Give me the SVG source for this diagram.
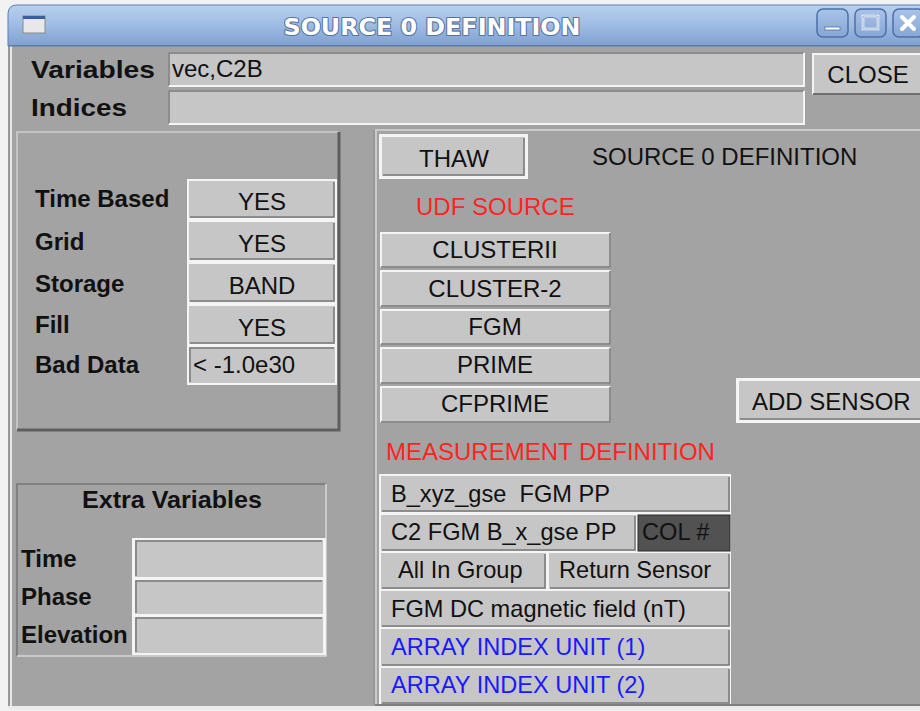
<svg xmlns="http://www.w3.org/2000/svg" width="920" height="711" viewBox="0 0 920 711">
<defs>
<linearGradient id="tb" x1="0" y1="0" x2="0" y2="1">
<stop offset="0" stop-color="#b9d0ee"/>
<stop offset="0.5" stop-color="#9dbbe3"/>
<stop offset="1" stop-color="#7f9fcf"/>
</linearGradient>
<linearGradient id="wb" x1="0" y1="0" x2="0" y2="1">
<stop offset="0" stop-color="#a9c3e8"/>
<stop offset="1" stop-color="#86a6d6"/>
</linearGradient>
</defs>
<style>
.bg{fill:#a3a3a3}
.btn{fill:#c6c6c6}
.hi{fill:none;stroke:#f4f4f4;stroke-width:2}
.lo{fill:none;stroke:#6f6f6f;stroke-width:2}
.lo1{fill:none;stroke:#7a7a7a;stroke-width:1.5}
.t{font-family:"Liberation Sans",Arial,sans-serif;font-size:24px;fill:#111}
.m{font-size:23.6px;white-space:pre}
.c{text-anchor:middle}
.b{font-family:"Liberation Sans",Arial,sans-serif;font-weight:bold;font-size:24px;fill:#111}
.red{fill:#ff2323}
.blue{fill:#1a1aff}
.wbtn{fill:url(#wb);stroke:#4d6fa6;stroke-width:1.5}
</style>
<rect x="0" y="0" width="920" height="711" fill="#f2f2f2"/>

<g id="window">
<rect x="8" y="44" width="920" height="662" class="bg"/>
<line x1="9" y1="44" x2="9" y2="708" stroke="#8c8c8c" stroke-width="1"/>
<line x1="11" y1="44" x2="11" y2="708" stroke="#e6e6e6" stroke-width="2"/>
<line x1="8" y1="708" x2="920" y2="708" stroke="#ececec" stroke-width="4"/>
</g>

<g id="titlebar">
<path d="M8,46 V14 Q8,5 17,5 H930 V46 Z" fill="url(#tb)" stroke="#5f7fb0" stroke-width="1"/>
<line x1="8" y1="45.5" x2="920" y2="45.5" stroke="#5a78a8" stroke-width="1"/>
<rect x="23" y="16" width="22" height="17" fill="#e8e8e8" stroke="#8a8a8a" stroke-width="1"/>
<rect x="23" y="16" width="22" height="3" fill="#3a5ea0"/>
<text x="432" y="35" text-anchor="middle" font-family="'DejaVu Sans',Verdana,sans-serif" font-weight="bold" font-size="23.8px" fill="#ffffff" stroke="#56739f" stroke-width="2.2" paint-order="stroke" stroke-linejoin="round">SOURCE 0 DEFINITION</text>
<rect x="817" y="9" width="31" height="28" rx="6" class="wbtn"/>
<rect x="825" y="27" width="15" height="3" fill="#ffffff" stroke="#4d6fa6" stroke-width="0.8"/>
<rect x="855" y="9" width="31" height="28" rx="6" class="wbtn"/>
<rect x="863" y="16" width="15" height="13" fill="none" stroke="#ffffff" stroke-width="2.5"/>
<rect x="863" y="16" width="15" height="13" fill="none" stroke="#4d6fa6" stroke-width="0.6"/>
<rect x="893" y="9" width="31" height="28" rx="6" class="wbtn"/>
<path d="M902,17 L914,29 M914,17 L902,29" stroke="#ffffff" stroke-width="4" stroke-linecap="round"/>
</g>

<g id="variables">
<text x="31" y="78" class="b" font-size="26px" textLength="124" lengthAdjust="spacingAndGlyphs">Variables</text>
<rect x="168" y="52" width="637" height="35" class="btn"/>
<path d="M169,86 V53 H804" class="lo1"/>
<path d="M169,86 H804 V53" class="hi"/>
<text x="172" y="77" class="t">vec,C2B</text>
</g>

<g id="indices">
<text x="31" y="116" class="b" font-size="26px" textLength="96" lengthAdjust="spacingAndGlyphs">Indices</text>
<rect x="168" y="90" width="637" height="35" class="btn"/>
<path d="M169,124 V91 H804" class="lo1"/>
<path d="M169,124 H804 V91" class="hi"/>
</g>

<g id="close">
<rect x="812" y="53" width="112" height="42" class="btn"/>
<path d="M813,94 V54 H924" class="hi"/>
<path d="M813,94 H924" class="lo"/>
<text x="868" y="83" class="t c">CLOSE</text>
</g>

<g id="options-panel">
<rect x="16" y="131" width="324" height="300" class="bg"/>
<path d="M17,430 V132 H339" fill="none" stroke="#c4c4c4" stroke-width="2"/>
<path d="M17,430 H339 V132" fill="none" stroke="#5e5e5e" stroke-width="3"/>
<rect x="187" y="179" width="150" height="206" fill="#f4f4f4"/>
<g id="time-based">
<text x="35" y="207" class="b">Time Based</text>
<rect x="189" y="181" width="146" height="37" class="btn"/>
<path d="M190,217 H334 V182" class="lo1"/>
<text x="262" y="210" class="t c" font-size="23px">YES</text>
</g>
<g id="grid">
<text x="35" y="250" class="b">Grid</text>
<rect x="189" y="222" width="146" height="38" class="btn"/>
<path d="M190,259 H334 V223" class="lo1"/>
<text x="262" y="252" class="t c" font-size="23px">YES</text>
</g>
<g id="storage">
<text x="35" y="292" class="b">Storage</text>
<rect x="189" y="264" width="146" height="38" class="btn"/>
<path d="M190,301 H334 V265" class="lo1"/>
<text x="262" y="294" class="t c" font-size="23px">BAND</text>
</g>
<g id="fill">
<text x="35" y="333" class="b">Fill</text>
<rect x="189" y="306" width="146" height="38" class="btn"/>
<path d="M190,343 H334 V307" class="lo1"/>
<text x="262" y="336" class="t c" font-size="23px">YES</text>
</g>
<g id="bad-data">
<text x="35" y="373" class="b">Bad Data</text>
<rect x="189" y="347" width="146" height="36" class="btn"/>
<path d="M190,382 V348 H334" class="lo1"/>
<text x="193" y="373" class="t" font-size="22px">&lt; -1.0e30</text>
</g>
</g>

<g id="extra-variables">
<path d="M17,656 V484 H326" fill="none" stroke="#767676" stroke-width="1.5"/>
<path d="M17,656 H326 V484" fill="none" stroke="#d8d8d8" stroke-width="1.5"/>
<text x="82" y="508" class="b" textLength="180" lengthAdjust="spacingAndGlyphs">Extra Variables</text>
<rect x="132" y="538" width="194" height="117" fill="#f4f4f4"/>
<g id="time">
<text x="21" y="567" class="b">Time</text>
<rect x="135" y="540" width="188" height="37" class="btn"/>
<path d="M136,576 V541 H322" class="lo1"/>
</g>
<g id="phase">
<text x="21" y="605" class="b">Phase</text>
<rect x="135" y="580" width="188" height="34" class="btn"/>
<path d="M136,613 V581 H322" class="lo1"/>
</g>
<g id="elevation">
<text x="21" y="643" class="b">Elevation</text>
<rect x="135" y="617" width="188" height="36" class="btn"/>
<path d="M136,652 V618 H322" class="lo1"/>
</g>
</g>

<g id="source-panel">
<path d="M376,705 V130 H920" fill="none" stroke="#cacaca" stroke-width="2"/>
<line x1="374" y1="130" x2="374" y2="705" stroke="#8a8a8a" stroke-width="1"/>
<line x1="375" y1="705" x2="920" y2="705" stroke="#7e7e7e" stroke-width="2"/>
</g>

<g id="thaw">
<rect x="379" y="134" width="149" height="45" fill="#f4f4f4"/>
<rect x="382" y="137" width="143" height="39" class="btn"/>
<path d="M383,175 H524 V138" class="lo1"/>
<text x="454" y="167" class="t c">THAW</text>
</g>

<text id="source-title" x="592" y="165" class="t" font-size="24.4px">SOURCE 0 DEFINITION</text>
<text id="udf-source" x="416" y="215" class="t red">UDF SOURCE</text>

<g id="udf-list">
<g id="clusterii">
<rect x="380" y="232" width="231" height="36" class="btn"/>
<path d="M381,267 V233 H610" class="hi"/><path d="M381,267 H610 V233" class="lo1"/>
<text x="495" y="258" class="t c">CLUSTERII</text>
</g>
<g id="cluster-2">
<rect x="380" y="270" width="231" height="37" class="btn"/>
<path d="M381,306 V271 H610" class="hi"/><path d="M381,306 H610 V271" class="lo1"/>
<text x="495" y="297" class="t c">CLUSTER-2</text>
</g>
<g id="fgm">
<rect x="380" y="309" width="231" height="36" class="btn"/>
<path d="M381,344 V310 H610" class="hi"/><path d="M381,344 H610 V310" class="lo1"/>
<text x="495" y="335" class="t c">FGM</text>
</g>
<g id="prime">
<rect x="380" y="347" width="231" height="37" class="btn"/>
<path d="M381,383 V348 H610" class="hi"/><path d="M381,383 H610 V348" class="lo1"/>
<text x="495" y="373" class="t c">PRIME</text>
</g>
<g id="cfprime">
<rect x="380" y="386" width="231" height="37" class="btn"/>
<path d="M381,422 V387 H610" class="hi"/><path d="M381,422 H610 V387" class="lo1"/>
<text x="495" y="412" class="t c">CFPRIME</text>
</g>
</g>

<g id="add-sensor">
<rect x="736" y="378" width="190" height="45" fill="#f4f4f4"/>
<rect x="739" y="381" width="190" height="39" class="btn"/>
<path d="M740,419 H925" class="lo1"/>
<text x="752" y="410" class="t">ADD SENSOR</text>
</g>

<text id="measurement-title" x="386" y="460" class="t red" font-size="24.4px">MEASUREMENT DEFINITION</text>

<g id="measurement">
<rect x="379" y="474" width="352" height="230" fill="#f4f4f4"/>
<g id="m-name">
<rect x="381" y="476" width="349" height="36" class="btn"/>
<path d="M382,511 H729 V477" class="lo1"/>
<text x="391" y="502" class="t m" xml:space="preserve">B_xyz_gse  FGM PP</text>
</g>
<g id="m-desc">
<rect x="381" y="515" width="255" height="36" class="btn"/>
<path d="M382,550 H635 V516" class="lo1"/>
<text x="391" y="540" class="t m">C2 FGM B_x_gse PP</text>
</g>
<g id="col">
<rect x="638" y="515" width="92" height="36" fill="#525252" stroke="#2a2a2a" stroke-width="1"/>
<text x="642" y="540" class="t m">COL #</text>
</g>
<g id="all-in-group">
<rect x="381" y="553" width="165" height="36" class="btn"/>
<path d="M382,588 H545 V554" class="lo1"/>
<text x="398" y="578" class="t m">All In Group</text>
</g>
<g id="return-sensor">
<rect x="549" y="553" width="181" height="36" class="btn"/>
<path d="M550,588 H729 V554" class="lo1"/>
<text x="559" y="578" class="t m">Return Sensor</text>
</g>
<g id="m-units">
<rect x="381" y="591" width="349" height="36" class="btn"/>
<path d="M382,626 H729 V592" class="lo1"/>
<text x="391" y="617" class="t m">FGM DC magnetic field (nT)</text>
</g>
<g id="array-index-1">
<rect x="381" y="629" width="349" height="37" class="btn"/>
<path d="M382,665 H729 V630" class="lo1"/>
<text x="391" y="655" class="t m blue">ARRAY INDEX UNIT (1)</text>
</g>
<g id="array-index-2">
<rect x="381" y="668" width="349" height="36" class="btn"/>
<path d="M382,703 H729 V669" class="lo1"/>
<text x="391" y="693" class="t m blue">ARRAY INDEX UNIT (2)</text>
</g>
</g>
</svg>
